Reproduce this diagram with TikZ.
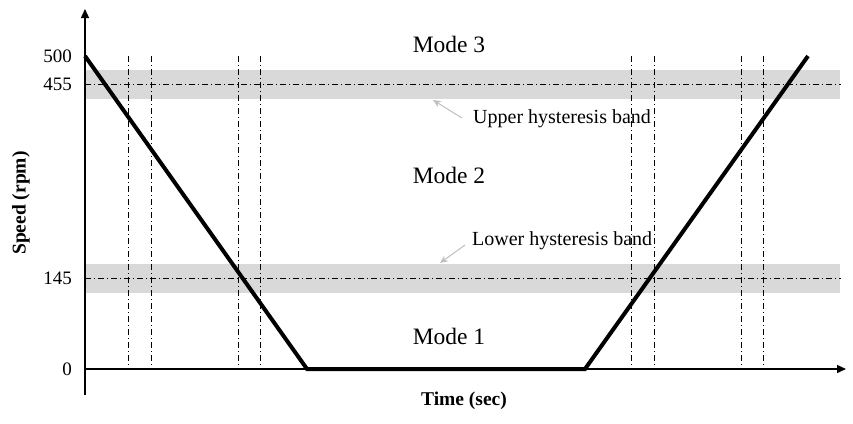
\documentclass[tikz,border=0pt]{standalone}
\usepackage{fontspec}
\setmainfont{Liberation Serif}
\usetikzlibrary{arrows.meta}
\definecolor{bandgray}{HTML}{D9D9D9}
\definecolor{notegray}{HTML}{BFBFBF}
\tikzset{
  band/.style={fill=bandgray, draw=none},
  dashdotline/.style={line width=0.9pt, dash pattern=on 6pt off 3pt on 1pt off 3pt},
  axisline/.style={line width=1.4pt, -{Triangle[length=9pt,width=8pt]}},
  speedline/.style={line width=4pt, line join=miter},
  notearrow/.style={line width=1pt, draw=notegray, -{Stealth[length=8pt,width=7pt]}},
  ticklabel/.style={anchor=east, inner sep=0pt, font=\fontsize{19}{22}\selectfont},
  modelabel/.style={inner sep=0pt, font=\fontsize{23.5}{27}\selectfont},
  notelabel/.style={anchor=west, inner sep=0pt, font=\fontsize{20}{23}\selectfont},
  axislabel/.style={inner sep=0pt, font=\fontsize{19.5}{23}\selectfont\bfseries},
}
\begin{document}
\begin{tikzpicture}[x=1pt, y=-1pt]
\useasboundingbox (0,0) rectangle (853,423);
% bands
\fill[band] (85,70) rectangle (840,99);
\fill[band] (85,264) rectangle (840,293);
% horizontal dash-dot lines
\coordinate (h1a) at (85,84);  \coordinate (h1b) at (841,84);
\coordinate (h2a) at (85,278); \coordinate (h2b) at (841,278);
\draw[dashdotline] (h1a) -- (h1b);
\draw[dashdotline] (h2a) -- (h2b);
% vertical dash-dot lines
\foreach \x [count=\i] in {128,151,238,260,631,654,741,763}{
  \coordinate (vt\i) at (\x,56);
  \coordinate (vb\i) at (\x,369);
  \draw[dashdotline] (vt\i) -- (vb\i);
}
% axes
\coordinate (O) at (85,369);
\coordinate (ybot) at (85,395);
\coordinate (ytop) at (85,9);
\coordinate (xend) at (846,369);
\draw[axisline] (ybot) -- (ytop);
\draw[axisline] (O) -- (xend);
% speed profile
\coordinate (p1) at (85,56);
\coordinate (p2) at (307,369);
\coordinate (p3) at (585,369);
\coordinate (p4) at (808,56);
\draw[speedline] (p1) -- (p2) -- (p3) -- (p4);
% tick labels
\node[ticklabel] (t500) at (72,56) {500};
\node[ticklabel] (t455) at (72,84) {455};
\node[ticklabel] (t145) at (72,278) {145};
\node[ticklabel] (t0) at (72,369) {0};
% mode labels
\node[modelabel] (m3) at (449,44) {Mode 3};
\node[modelabel] (m2) at (449,175) {Mode 2};
\node[modelabel] (m1) at (449,336) {Mode 1};
% hysteresis notes
\node[notelabel] (ub) at (473,119) {Upper hysteresis band};
\node[notelabel] (lb) at (472,241) {Lower hysteresis band};
\coordinate (uarr) at (433,100);
\coordinate (larr) at (440,263);
\draw[notearrow] (462,118) -- (uarr);
\draw[notearrow] (465,245) -- (larr);
% axis labels
\node[axislabel, rotate=90] (ylab) at (21,203) {Speed (rpm)};
\node[axislabel] (xlab) at (464,401) {Time (sec)};
\end{tikzpicture}
\end{document}
